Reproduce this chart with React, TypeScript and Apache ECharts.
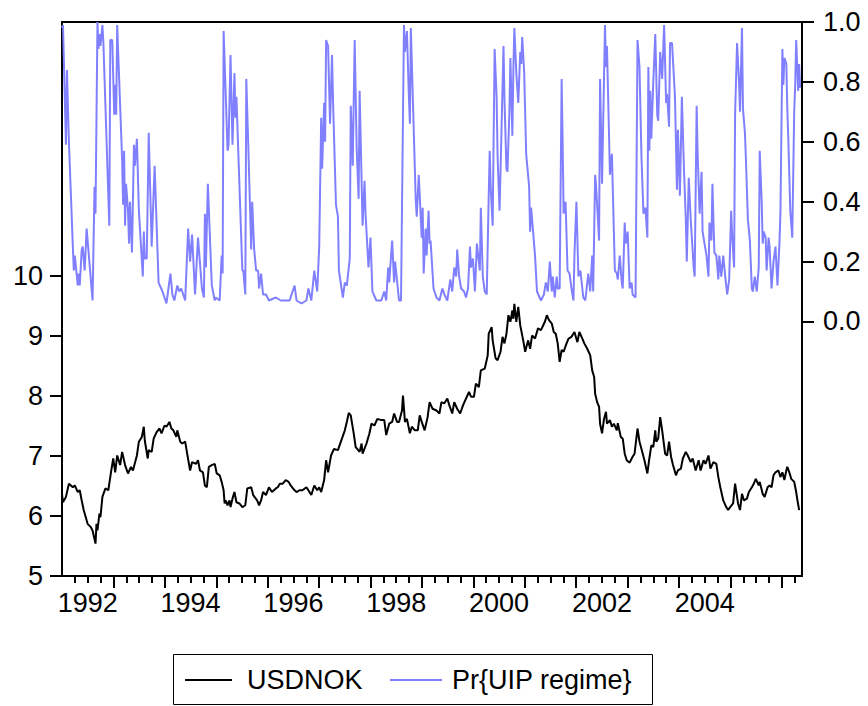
import React, { useEffect, useRef } from "react";
import * as echarts from "echarts";

// x = weeks since the start of 1992 (weekly observations)
const WEEKS_PER_YEAR = 52.18;
const START_YEAR = 1992;
const LAST_WEEK = 750.9;
const labelYears = [1992, 1994, 1996, 1998, 2000, 2002, 2004];
const leftTicks = [5, 6, 7, 8, 9, 10];
const rightTicks = [0, 0.2, 0.4, 0.6, 0.8, 1.0];

const usdnokWeeks = [0,1,4,7,11,13,16,18,20,22,26,29,31,34,35,36,38,39,41,44,47,50,52,54,56,59,61,64,67,70,72,76,78,81,83,84,87,88,91,93,96,99,101,104,106,109,111,113,116,117,120,122,125,127,130,132,136,138,140,143,145,147,149,152,155,157,160,162,164,165,166,168,170,171,173,175,177,180,183,186,188,192,194,198,200,202,204,207,210,213,217,219,221,224,227,230,232,236,238,241,244,248,250,253,256,259,261,263,266,268,270,273,276,280,283,287,289,291,293,296,298,302,304,305,309,312,314,317,320,324,327,329,332,335,337,340,342,345,346,348,350,353,355,358,361,363,365,368,371,373,376,380,383,385,388,391,393,396,398,401,404,407,410,413,415,418,420,423,425,429,432,433,436,437,440,442,445,447,449,451,453,455,457,458,459,461,463,465,468,470,473,475,477,480,483,486,490,492,494,497,499,501,503,505,507,509,512,514,517,520,523,525,528,530,533,536,538,540,541,543,545,546,548,550,552,553,556,558,560,563,564,567,569,571,573,576,579,581,584,586,588,591,594,596,598,600,602,603,605,607,609,612,614,616,618,620,623,625,628,630,633,635,638,640,643,646,648,651,653,656,658,661,664,666,668,671,674,676,678,681,683,685,686,688,690,692,695,697,700,702,704,707,708,711,713,716,718,720,722,724,727,729,731,733,735,736,738,740,743,745,746,748];
const usdnokValues = [6.37,6.23,6.32,6.54,6.48,6.51,6.40,6.43,6.26,6.10,5.87,5.82,5.76,5.54,5.87,5.76,6.04,5.98,6.32,6.46,6.43,6.76,6.96,6.73,7.01,6.85,7.07,6.85,6.71,6.82,6.76,7.01,7.24,7.32,7.49,7.26,6.96,7.10,7.07,7.29,7.40,7.46,7.38,7.51,7.49,7.57,7.46,7.43,7.32,7.43,7.24,7.21,7.24,7.04,6.76,6.90,6.87,6.93,6.76,6.73,6.51,6.48,6.82,6.85,6.87,6.71,6.68,6.57,6.43,6.21,6.26,6.18,6.26,6.15,6.29,6.40,6.23,6.21,6.15,6.18,6.46,6.48,6.35,6.26,6.18,6.26,6.40,6.35,6.48,6.40,6.46,6.48,6.54,6.54,6.60,6.57,6.51,6.43,6.40,6.43,6.43,6.48,6.43,6.35,6.51,6.43,6.48,6.40,6.60,6.93,6.73,7.01,7.12,7.10,7.24,7.43,7.57,7.72,7.68,7.38,7.15,7.07,7.21,7.04,7.21,7.38,7.54,7.51,7.62,7.60,7.60,7.35,7.54,7.57,7.71,7.57,7.57,7.76,8.01,7.57,7.62,7.38,7.49,7.43,7.43,7.68,7.57,7.43,7.65,7.90,7.79,7.76,7.71,7.90,7.88,7.96,7.85,7.71,7.90,7.79,7.71,7.85,7.96,8.07,7.99,7.99,8.21,8.15,8.43,8.46,8.68,9.04,9.15,8.93,8.63,8.60,8.74,8.99,8.88,9.04,9.35,9.24,9.43,9.29,9.54,9.24,9.49,9.18,8.93,8.74,8.93,8.79,9.01,8.96,9.13,9.10,9.24,9.35,9.27,9.21,9.07,9.04,8.88,8.57,8.77,8.74,8.88,8.96,8.99,9.07,8.90,9.07,8.96,8.88,8.79,8.68,8.43,8.32,8.04,7.90,7.82,7.54,7.38,7.62,7.74,7.54,7.60,7.49,7.54,7.43,7.55,7.32,7.29,7.04,6.93,6.89,6.99,7.04,7.46,7.24,7.12,6.93,6.71,6.96,7.18,7.15,7.43,7.24,7.29,7.65,7.43,7.04,7.01,7.24,6.99,6.85,6.68,6.76,6.79,6.96,7.07,7.01,6.90,6.96,6.76,6.93,6.76,6.93,6.87,7.01,6.79,6.90,6.87,6.65,6.48,6.26,6.15,6.10,6.15,6.21,6.54,6.32,6.21,6.10,6.37,6.26,6.29,6.40,6.48,6.54,6.62,6.51,6.57,6.37,6.32,6.48,6.51,6.48,6.68,6.73,6.76,6.65,6.73,6.60,6.76,6.82,6.73,6.62,6.57,6.40,6.29,6.10];

const probWeeks = [0,1,4,5,7,11,12,13,16,17,18,20,21,23,25,26,31,33,34,36,37,38,39,41,42,48,49,51,53,54,55,56,61,62,63,64,65,67,68,69,71,73,74,76,78,82,83,84,86,88,91,94,98,102,106,110,112,114,117,119,121,125,128,130,132,135,138,142,144,145,146,148,152,155,156,160,162,163,164,168,169,171,173,175,176,177,183,184,186,187,189,192,193,195,197,199,200,202,204,207,210,217,222,231,236,238,243,248,250,253,256,259,261,263,264,266,267,268,270,272,274,275,278,280,281,285,287,289,292,293,295,297,299,301,302,305,307,308,311,313,315,319,324,327,329,331,332,335,337,338,342,344,347,348,350,352,353,354,355,359,360,362,364,365,366,367,369,370,372,373,374,377,380,383,386,388,391,394,396,398,400,401,403,405,408,410,412,414,415,417,419,421,424,425,427,429,431,433,434,435,437,439,441,442,444,446,448,449,451,452,454,455,457,458,459,461,463,465,466,467,469,471,474,475,476,480,482,486,489,491,493,495,497,498,500,502,503,505,507,508,509,511,513,515,517,519,520,522,524,526,529,531,534,536,538,539,541,542,545,546,548,551,552,553,556,558,561,563,564,566,568,569,571,572,574,576,578,579,582,584,586,588,590,592,594,595,596,597,598,600,602,604,605,607,609,610,611,613,614,616,617,619,622,624,625,627,629,631,633,634,636,638,641,642,644,645,647,649,650,652,654,656,657,659,660,662,664,666,667,669,671,673,675,677,679,680,682,683,685,687,688,690,691,693,694,696,698,700,701,703,705,707,708,710,711,712,714,715,717,718,720,722,724,726,728,729,731,732,733,735,736,737,739,741,743,744,745,747,748,749];
const probValues = [0.98,0.99,0.59,0.84,0.60,0.25,0.17,0.22,0.12,0.16,0.12,0.24,0.25,0.17,0.31,0.27,0.07,0.45,0.36,1.0,0.91,0.96,0.92,0.99,0.93,0.32,0.94,0.94,0.69,0.79,0.69,0.99,0.54,0.39,0.57,0.32,0.46,0.37,0.26,0.40,0.23,0.59,0.52,0.61,0.37,0.15,0.30,0.21,0.21,0.63,0.25,0.52,0.13,0.10,0.06,0.16,0.09,0.07,0.12,0.10,0.11,0.07,0.31,0.20,0.29,0.09,0.28,0.11,0.08,0.36,0.18,0.46,0.12,0.07,0.08,0.07,0.22,0.16,0.97,0.57,0.59,0.89,0.59,0.83,0.68,0.75,0.17,0.17,0.09,0.81,0.59,0.24,0.40,0.24,0.17,0.17,0.11,0.16,0.09,0.09,0.07,0.08,0.07,0.07,0.12,0.07,0.06,0.07,0.11,0.07,0.17,0.10,0.25,0.68,0.51,0.73,0.60,0.94,0.92,0.66,0.89,0.74,0.39,0.35,0.17,0.08,0.13,0.12,0.21,0.72,0.52,0.94,0.58,0.41,0.77,0.32,0.47,0.36,0.18,0.28,0.10,0.07,0.07,0.10,0.07,0.18,0.13,0.27,0.13,0.20,0.07,0.07,0.99,0.90,0.97,0.75,0.66,0.98,0.86,0.40,0.35,0.49,0.35,0.28,0.38,0.16,0.31,0.22,0.37,0.26,0.27,0.11,0.08,0.07,0.11,0.09,0.07,0.14,0.10,0.18,0.15,0.24,0.15,0.11,0.10,0.08,0.11,0.25,0.18,0.21,0.10,0.26,0.17,0.38,0.15,0.10,0.09,0.42,0.57,0.45,0.32,0.91,0.75,0.55,0.37,0.64,0.92,0.74,0.51,0.50,0.70,0.88,0.62,0.84,0.98,0.83,0.73,0.90,0.86,0.95,0.83,0.56,0.45,0.30,0.38,0.22,0.10,0.07,0.09,0.13,0.10,0.20,0.10,0.15,0.08,0.15,0.11,0.11,0.81,0.60,0.36,0.40,0.17,0.16,0.11,0.07,0.22,0.40,0.15,0.17,0.08,0.07,0.16,0.10,0.22,0.10,0.49,0.45,0.27,0.81,0.46,0.99,0.85,0.92,0.49,0.56,0.17,0.16,0.14,0.22,0.13,0.11,0.33,0.26,0.30,0.11,0.13,0.09,0.08,0.94,0.85,0.55,0.36,0.38,0.28,0.85,0.57,0.77,0.61,0.80,0.96,0.69,0.67,0.90,0.81,0.90,0.99,0.73,0.76,0.65,0.93,0.93,0.75,0.44,0.64,0.42,0.75,0.52,0.34,0.20,0.48,0.34,0.18,0.15,0.72,0.56,0.36,0.50,0.30,0.26,0.22,0.15,0.33,0.27,0.46,0.23,0.22,0.14,0.22,0.15,0.22,0.15,0.09,0.14,0.37,0.29,0.18,0.69,0.93,0.80,0.70,0.98,0.71,0.63,0.54,0.34,0.27,0.11,0.10,0.15,0.10,0.18,0.57,0.40,0.26,0.30,0.28,0.17,0.28,0.25,0.11,0.20,0.25,0.12,0.26,0.36,0.91,0.79,0.88,0.86,0.71,0.61,0.37,0.28,0.70,0.79,0.94,0.77,0.86,0.78];

const FONT = "'Liberation Sans', Arial, sans-serif";
const BLUE = "#8080ff";

export default function App() {
  const ref = useRef<HTMLDivElement>(null);
  useEffect(() => {
    if (!ref.current) return;
    const chart = echarts.init(ref.current, undefined, { renderer: "svg" });
    const majorTicks: number[] = [];
    for (let k = 1; k * WEEKS_PER_YEAR < LAST_WEEK; k++) majorTicks.push(k * WEEKS_PER_YEAR);
    const quarterTicks: number[] = [];
    for (let k = 1; (k * WEEKS_PER_YEAR) / 4 < LAST_WEEK; k++) quarterTicks.push((k * WEEKS_PER_YEAR) / 4);
    const labelWeeks = labelYears.map((y) => (y - START_YEAR) * WEEKS_PER_YEAR + WEEKS_PER_YEAR / 2);
    const yearOf = (w: number) => String(Math.round(w / WEEKS_PER_YEAR - 0.5 + START_YEAR));
    const axisText = { color: "#000", fontSize: 27, fontFamily: FONT };
    const blackLine = { color: "#000", width: 2 };
    chart.setOption({
      animation: false,
      backgroundColor: "#fff",
      grid: { left: 62, top: 22, right: 66, bottom: 130, show: true, borderColor: "#000", borderWidth: 2, backgroundColor: "transparent" },
      xAxis: [
        {
          type: "value", min: 0, max: LAST_WEEK, position: "bottom",
          axisLine: { show: true, onZero: false, lineStyle: blackLine },
          axisTick: { show: true, customValues: majorTicks, length: 12, lineStyle: blackLine },
          axisLabel: { customValues: labelWeeks, formatter: (v: number) => yearOf(v), margin: 13, ...axisText },
          splitLine: { show: false },
        },
        {
          type: "value", min: 0, max: LAST_WEEK, position: "bottom",
          axisLine: { show: false, onZero: false },
          axisTick: { show: true, customValues: quarterTicks, length: 7, lineStyle: blackLine },
          axisLabel: { show: false },
          splitLine: { show: false },
        },
      ],
      yAxis: [
        {
          type: "value", min: 5, max: 14.24, position: "left",
          axisLine: { show: true, onZero: false, lineStyle: blackLine },
          axisTick: { show: true, customValues: leftTicks, length: 12, lineStyle: blackLine },
          axisLabel: { customValues: leftTicks, margin: 19, ...axisText },
          splitLine: { show: false },
        },
        {
          type: "value", min: -0.85, max: 1.0, position: "right",
          axisLine: { show: true, onZero: false, lineStyle: blackLine },
          axisTick: { show: true, customValues: rightTicks, length: 12, lineStyle: blackLine },
          axisLabel: { customValues: rightTicks, margin: 21, formatter: (v: number) => v.toFixed(1), ...axisText },
          splitLine: { show: false },
        },
      ],
      series: [
        {
          name: "Pr{UIP regime}", type: "line", xAxisIndex: 0, yAxisIndex: 1, symbol: "none",
          lineStyle: { color: BLUE, width: 2 }, itemStyle: { color: BLUE },
          data: probWeeks.map((w, i) => [w, probValues[i]]),
        },
        {
          name: "USDNOK", type: "line", xAxisIndex: 0, yAxisIndex: 0, symbol: "none",
          lineStyle: { color: "#000", width: 2 }, itemStyle: { color: "#000" },
          data: usdnokWeeks.map((w, i) => [w, usdnokValues[i]]),
        },
      ],
      graphic: [
        { type: "rect", shape: { x: 173.5, y: 654.5, width: 479, height: 50 }, style: { fill: "none", stroke: "#000", lineWidth: 1 } },
        { type: "line", shape: { x1: 185, y1: 680, x2: 232, y2: 680 }, style: { stroke: "#000", lineWidth: 2 } },
        { type: "text", x: 247, y: 680, style: { text: "USDNOK", fill: "#000", font: `27px ${FONT}`, verticalAlign: "middle" } },
        { type: "line", shape: { x1: 390, y1: 680, x2: 442, y2: 680 }, style: { stroke: BLUE, lineWidth: 2 } },
        { type: "text", x: 452, y: 680, style: { text: "Pr{UIP regime}", fill: "#000", font: `27px ${FONT}`, verticalAlign: "middle" } },
      ],
    });
    return () => chart.dispose();
  }, []);
  return <div ref={ref} style={{ position: "fixed", left: 0, top: 0, width: 868, height: 706 }} />;
}
